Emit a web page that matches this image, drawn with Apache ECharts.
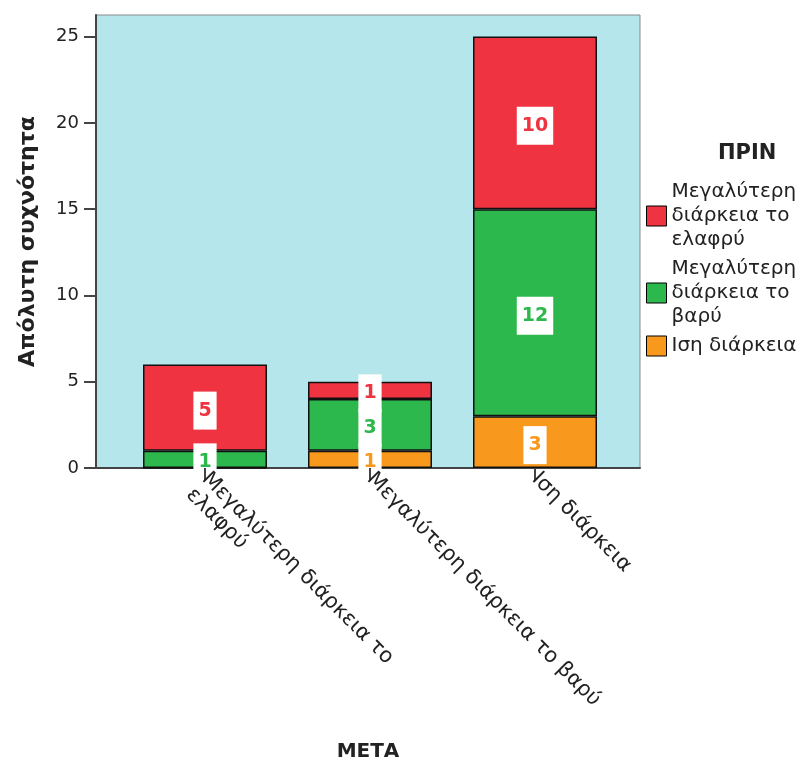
<!DOCTYPE html>
<html>
<head>
<meta charset="utf-8">
<script src="https://cdn.jsdelivr.net/npm/echarts@6/dist/echarts.min.js"></script>
<style>html,body{margin:0;padding:0;background:#fff;}#c{width:804px;height:765px;}</style>
</head>
<body>
<div id="c"></div>
<script>
// Categories (x axis: ΜΕΤΑ)
const categories = ['Μεγαλύτερη διάρκεια το ελαφρύ', 'Μεγαλύτερη διάρκεια το βαρύ', 'Ιση διάρκεια'];
const xTickLabels = ['Μεγαλύτερη διάρκεια το\nελαφρύ', 'Μεγαλύτερη διάρκεια το βαρύ', 'Ιση διάρκεια'];
// Series (ΠΡΙΝ)
const seriesNames = ['Ιση διάρκεια', 'Μεγαλύτερη διάρκεια το βαρύ', 'Μεγαλύτερη διάρκεια το ελαφρύ'];
const isiValues = [0, 1, 3];
const variValues = [1, 3, 12];
const elafryValues = [5, 1, 10];
const legendLabels = {
  'Μεγαλύτερη διάρκεια το ελαφρύ': 'Μεγαλύτερη\nδιάρκεια το\nελαφρύ',
  'Μεγαλύτερη διάρκεια το βαρύ': 'Μεγαλύτερη\nδιάρκεια το\nβαρύ',
  'Ιση διάρκεια': 'Ιση διάρκεια'
};
const yTicks = [0, 5, 10, 15, 20, 25];

const colors = ['#F8991D', '#2DB84D', '#EF3340'];
const FONT = 'DejaVu Sans';
const Y_MAX = 26.25;

function mkData(vals) {
  return vals.map(v => v === 0 ? { value: v, label: { show: false } } : v);
}
const allValues = [isiValues, variValues, elafryValues];

// keep the first line of a wrapped tick label centred on the tick
function tickLabel(i) {
  const lines = xTickLabels[i].split('\n');
  return '\n'.repeat(lines.length - 1) + lines.join('\n');
}

const chart = echarts.init(document.getElementById('c'));
chart.setOption({
  animation: false,
  textStyle: { fontFamily: FONT },
  grid: [
    { // frame + visible y axis
      left: 96, right: 164, top: 15, bottom: 297,
      outerBoundsMode: 'none', containLabel: false,
      show: true, backgroundColor: '#B4E6EC', borderColor: '#8a8a8a', borderWidth: 1
    },
    { // category band (inset like the original)
      left: 122.5, right: 186.5, top: 15, bottom: 297,
      outerBoundsMode: 'none', containLabel: false
    }
  ],
  legend: {
    orient: 'vertical',
    left: 646, top: 180,
    padding: 0,
    itemGap: 5,
    itemWidth: 20, itemHeight: 20,
    icon: 'rect',
    data: [seriesNames[2], seriesNames[1], seriesNames[0]],
    formatter: n => legendLabels[n],
    textStyle: { fontFamily: FONT, fontSize: 20, lineHeight: 24, color: '#222' },
    itemStyle: { borderColor: '#000', borderWidth: 1 }
  },
  graphic: [{
    type: 'text', left: 718, top: 143,
    style: { text: 'ΠΡΙΝ', font: 'bold 21px "DejaVu Sans"', fill: '#222' }
  }],
  xAxis: [
    {
      gridIndex: 0, type: 'value', min: 0, max: 1,
      name: 'ΜΕΤΑ', nameLocation: 'middle', nameGap: 274,
      nameTextStyle: { fontFamily: FONT, fontSize: 20, fontWeight: 'bold', color: '#222' },
      axisLine: { show: true, lineStyle: { color: '#444', width: 2 } },
      axisTick: { show: false }, axisLabel: { show: false }, splitLine: { show: false }
    },
    {
      gridIndex: 1, type: 'category', data: categories, z: 5,
      axisLine: { show: false },
      axisTick: { show: true, alignWithLabel: true, length: 13, lineStyle: { color: '#444', width: 2 } },
      axisLabel: {
        interval: 0, rotate: -45, margin: 8,
        verticalAlign: 'middle',
        fontFamily: FONT, fontSize: 21, color: '#222', lineHeight: 22,
        formatter: (v, i) => tickLabel(i)
      }
    }
  ],
  yAxis: [
    {
      gridIndex: 0, type: 'value', min: 0, max: Y_MAX, interval: 5,
      name: 'Απόλυτη συχνότητα', nameLocation: 'middle', nameGap: 57,
      nameTextStyle: { fontFamily: FONT, fontSize: 22, fontWeight: 'bold', color: '#222' },
      splitLine: { show: false },
      axisLine: { show: true, lineStyle: { color: '#444', width: 2 } },
      axisTick: { show: true, length: 12, customValues: yTicks, lineStyle: { color: '#444', width: 2 } },
      axisLabel: { customValues: yTicks, margin: 17, fontFamily: FONT, fontSize: 18, color: '#222' }
    },
    {
      gridIndex: 1, type: 'value', min: 0, max: Y_MAX, show: false, splitLine: { show: false }
    }
  ],
  series: seriesNames.map((name, i) => ({
    name,
    type: 'bar',
    xAxisIndex: 1, yAxisIndex: 1,
    stack: 'total',
    barWidth: 124,
    data: mkData(allValues[i]),
    itemStyle: { color: colors[i], borderColor: '#111', borderWidth: 1.5 },
    label: {
      show: true, position: 'inside', offset: [0, 3],
      color: colors[i], fontFamily: FONT, fontWeight: 'bold', fontSize: 19,
      backgroundColor: '#fff', padding: [8, 5], lineHeight: 22
    }
  }))
});
</script>
</body>
</html>
